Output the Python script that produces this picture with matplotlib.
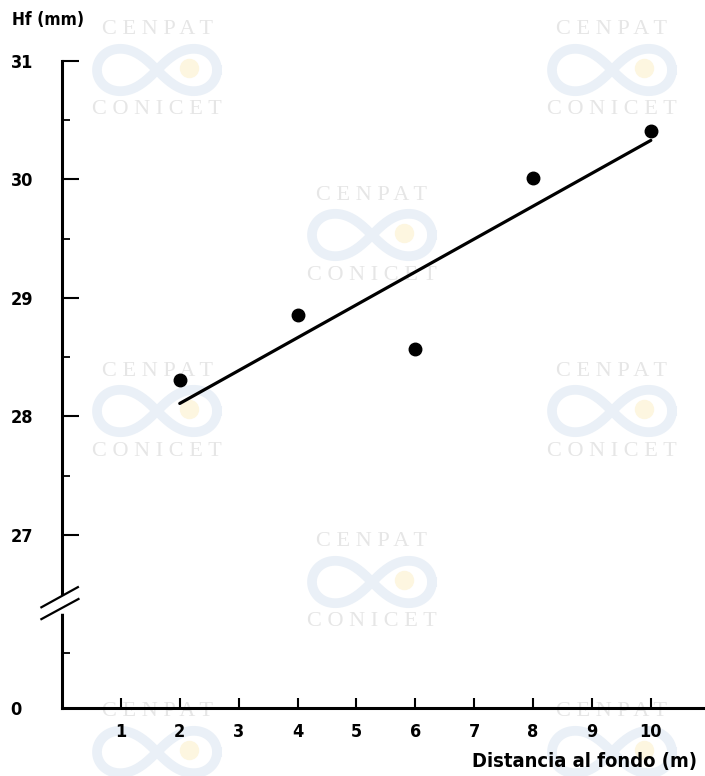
import numpy as np
import matplotlib.pyplot as plt
from matplotlib.lines import Line2D

# data
dist = [2, 4, 6, 8, 10]
hf = [28.31, 28.86, 28.57, 30.01, 30.41]
fit_x = [2, 10]
fit_y = [28.11, 30.33]

xticks = list(range(1, 11))
yticks_major = [27, 28, 29, 30, 31]
yticks_minor = [26, 27.5, 28.5, 29.5, 30.5]
y_zero = 25.54  # where the broken axis puts "0"

W, H = 705, 776
font = ["DejaVu Sans"]

fig = plt.figure(figsize=(W / 100, H / 100), dpi=100)
fig.patch.set_facecolor("white")


def fx(x):
    return x / W


def fy(y):
    return 1 - y / H


# faint watermarks of the scan
def watermark(cx, cy):
    serif = ["Liberation Serif", "DejaVu Serif"]
    for dy, word in [(-40, "C E N P A T"), (40, "C O N I C E T")]:
        if cy + dy < H - 12:
            fig.text(fx(cx), fy(cy + dy), word, family=serif, fontsize=16,
                     color="#e6e6e6", ha="center", va="center", zorder=-2)
    t = np.linspace(0, 2 * np.pi, 200)
    a = 60
    lx = cx + a * np.cos(t) / (1 + np.sin(t) ** 2)
    ly = cy + a * np.sin(t) * np.cos(t) / (1 + np.sin(t) ** 2)
    fig.add_artist(Line2D([fx(v) for v in lx], [fy(v) for v in ly],
                          transform=fig.transFigure, color="#eaf0f7", lw=7,
                          zorder=-3))
    fig.add_artist(Line2D([fx(cx + 32)], [fy(cy - 2)], transform=fig.transFigure,
                          marker="o", ms=13, color="#fdf6e0", lw=0, zorder=-2.5))


for cx, cy in [(157, 70), (612, 70), (372, 235), (157, 411), (612, 411),
               (372, 582), (157, 752), (612, 752)]:
    watermark(cx, cy)

ax = fig.add_axes([fx(62), 1 - 708 / H, 1 - fx(62), (708 - 61) / H])
ax.set_facecolor("none")
ax.set_xlim(0, 10.92)
ax.set_ylim(y_zero, 31)

for s in ["top", "right"]:
    ax.spines[s].set_visible(False)
for s in ["left", "bottom"]:
    ax.spines[s].set_linewidth(2.2)

ax.plot(fit_x, fit_y, color="black", lw=2.3, solid_capstyle="round")
ax.plot(dist, hf, "o", color="black", ms=9)

tick_font = dict(family=font, fontsize=13, fontweight="bold",
                 fontstretch="condensed")
ax.set_xticks(xticks)
ax.set_xticklabels([str(v) for v in xticks], **tick_font)
ax.tick_params(axis="x", direction="in", length=7, width=1.5, pad=11)

ax.set_yticks(yticks_major + [y_zero])
ax.set_yticklabels([str(v) for v in yticks_major] + ["0"], ha="left",
                   **tick_font)
ax.set_yticks(yticks_minor, minor=True)
ax.tick_params(axis="y", which="major", direction="in", length=12, width=1.5,
               pad=37)
ax.tick_params(axis="y", which="minor", direction="in", length=6, width=1.3)
ax.yaxis.get_major_ticks()[-1].tick1line.set_visible(False)

# axis break
ax.plot([0, 0], [26.36, 26.47], color="white", lw=4, clip_on=False, zorder=5)
ax.plot([-0.35, 0.27], [26.39, 26.56], color="black", lw=1.6, clip_on=False,
        zorder=6)
ax.plot([-0.35, 0.28], [26.29, 26.46], color="black", lw=1.6, clip_on=False,
        zorder=6)

fig.text(fx(12), fy(20), "Hf (mm)", ha="left", va="center",
         **dict(tick_font, fontsize=12.5))
fig.text(fx(697), fy(762), "Distancia al fondo (m)", ha="right", va="center",
         **dict(tick_font, fontsize=14.5))

fig.savefig("out.png", dpi=100)
